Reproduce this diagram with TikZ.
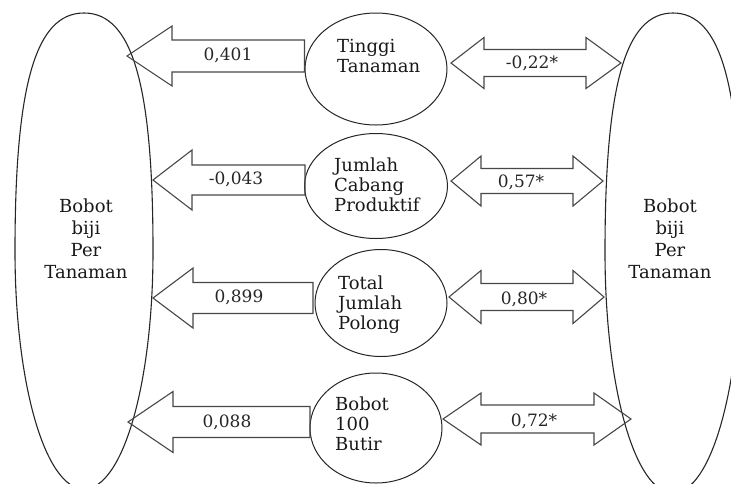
\documentclass[tikz,border=0pt]{standalone}
\usepackage{fontspec}
\setmainfont{DejaVu Serif}
\usetikzlibrary{calc,shapes.geometric}
\tikzset{
  blk/.style={draw=black!72, line width=1.1pt, line join=miter},
  bigshape/.style={draw=black!85, line width=1.1pt},
  oval/.style={ellipse, draw=black!85, line width=1pt, inner sep=0pt},
  bigtxt/.style={font=\fontsize{18}{21.7}\selectfont, align=center, inner sep=0pt, anchor=base, text=black!90},
  midtxt/.style={font=\fontsize{18}{20}\selectfont, align=left, inner sep=0pt, anchor=base west, text=black!90},
  lbl/.style={font=\fontsize{17}{20}\selectfont, inner sep=0pt, anchor=base, text=black!85},
}
% single block arrow: tip, tail, head length, head half-width, shaft half-width
\newcommand\blockL[5]{%
  \draw[blk] let \p1=(#1), \p2=(#2) in
    (\p1) -- (\x1+#3pt,\y1+#4pt) -- (\x1+#3pt,\y1+#5pt) -- (\x2,\y1+#5pt)
    -- (\x2,\y1-#5pt) -- (\x1+#3pt,\y1-#5pt) -- (\x1+#3pt,\y1-#4pt) -- cycle;}
% double block arrow: left tip, right tip, left head length, right head length, head half, shaft half
\newcommand\blockD[6]{%
  \draw[blk] let \p1=(#1), \p2=(#2) in
    (\p1) -- (\x1+#3pt,\y1+#5pt) -- (\x1+#3pt,\y1+#6pt) -- (\x2-#4pt,\y1+#6pt)
    -- (\x2-#4pt,\y1+#5pt) -- (\x2,\y1) -- (\x2-#4pt,\y1-#5pt) -- (\x2-#4pt,\y1-#6pt)
    -- (\x1+#3pt,\y1-#6pt) -- (\x1+#3pt,\y1-#5pt) -- cycle;}
\begin{document}
\begin{tikzpicture}[x=1pt,y=-1pt]
\useasboundingbox (0,0) rectangle (731,483);
% big outer shapes
\draw[bigshape] (84,13) .. controls (132.3,13) and (153,84.4) .. (153,251)
  .. controls (153,384.3) and (122.6,489) .. (84,489)
  .. controls (45.4,489) and (15,384.3) .. (15,251)
  .. controls (15,84.4) and (35.7,13) .. cycle;
\draw[bigshape] (673,13) .. controls (625.4,13) and (605,84.7) .. (605,252)
  .. controls (605,387) and (634.9,493) .. (673,493)
  .. controls (711.1,493) and (741,387) .. (741,252)
  .. controls (741,84.7) and (720.6,13) .. cycle;
% (base anchor of a multi-line node = baseline of its last line)
\node[bigtxt] (L) at (86,278) {Bobot\\biji\\Per\\Tanaman};
\node[bigtxt] (R) at (670,278) {Bobot\\biji\\Per\\Tanaman};
% middle ellipses
\node[oval, minimum width=142pt, minimum height=112pt] (e1) at (376,69) {};
\node[oval, minimum width=143pt, minimum height=105pt] (e2) at (376,186) {};
\node[oval, minimum width=132pt, minimum height=107pt] (e3) at (381,303) {};
\node[oval, minimum width=132pt, minimum height=110pt] (e4) at (376,428) {};
\node[midtxt] (m1) at (337,72) {Tinggi\\Tanaman};
\node[midtxt] (m2) at (334,211) {Jumlah\\Cabang\\Produktif};
\node[midtxt] (m3) at (338,329) {Total\\Jumlah\\Polong};
\node[midtxt] (m4) at (335,450) {Bobot\\100\\Butir};
% arrow end points
\coordinate (t1) at (127,56);  \coordinate (s1) at (e1.west |- t1);
\coordinate (t2) at (153,180); \coordinate (s2) at (305,180);
\coordinate (t3) at (153,298); \coordinate (s3) at (313,298);
\coordinate (t4) at (128,422); \coordinate (s4) at (310,422);
\coordinate (a1) at (451,63);  \coordinate (b1) at (621,63);
\coordinate (a2) at (451,181); \coordinate (b2) at (603,181);
\coordinate (a3) at (449,297); \coordinate (b3) at (604,297);
\coordinate (a4) at (443,419); \coordinate (b4) at (631,419);
% single arrows (to the left shape)
\blockL{t1}{s1}{45}{30}{16}
\blockL{t2}{s2}{39}{30}{15}
\blockL{t3}{s3}{40}{30}{15.5}
\blockL{t4}{s4}{45}{30.5}{15.5}
% double arrows (to the right shape)
\blockD{a1}{b1}{33}{35}{25.5}{13.5}
\blockD{a2}{b2}{30}{30}{25}{12.5}
\blockD{a3}{b3}{32}{31}{26.5}{13.5}
\blockD{a4}{b4}{38}{37}{26}{14}
% labels
\node[lbl] (l1) at (228,60) {0,401};
\node[lbl] (l2) at (236,184) {-0,043};
\node[lbl] (l3) at (239,302) {0,899};
\node[lbl] (l4) at (227,427) {0,088};
\node[lbl] (r1) at (532,68) {-0,22*};
\node[lbl] (r2) at (521,187) {0,57*};
\node[lbl] (r3) at (524,304) {0,80*};
\node[lbl] (r4) at (534,426) {0,72*};
\end{tikzpicture}
\end{document}
